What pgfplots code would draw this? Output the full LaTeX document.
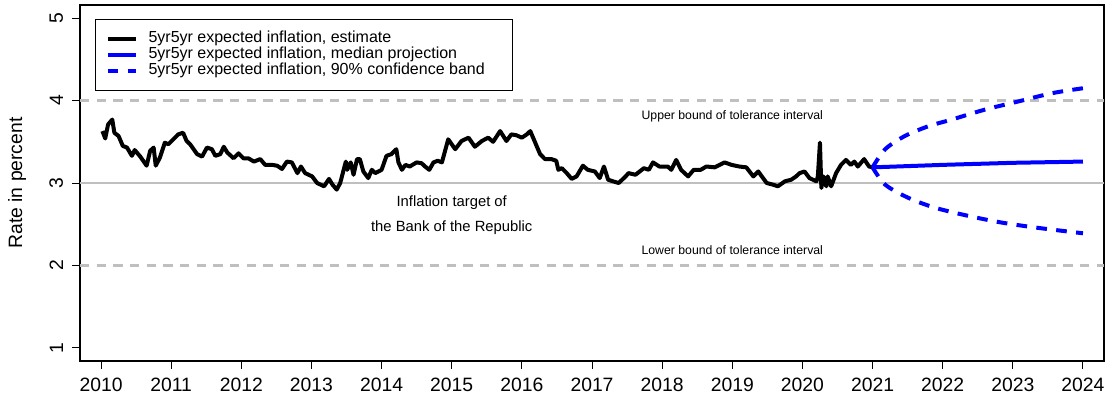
\documentclass[border=0pt]{standalone}
\usepackage{fontspec}
\setmainfont{Liberation Sans}
\usepackage{pgfplots}
\pgfplotsset{compat=1.18}
\begin{document}
\begin{tikzpicture}
\begin{axis}[name=ax, scale only axis, width=768pt, height=267pt,
  xmin=2009.7, xmax=2024.3, ymin=0.84, ymax=5.16,
  xtick={2010,2011,...,2024}, ytick={1,2,3,4,5},
  xtick pos=left, ytick pos=left,
  tick align=outside, major tick length=6pt,
  every tick/.style={black, line width=0.75pt},
  axis line style={line width=0.8pt},
  tick label style={font=\fontsize{14.5}{17}\selectfont},
  /pgf/number format/assume math mode=true,
  x tick label style={/pgf/number format/1000 sep={}},
  xticklabel shift=3.5pt,
  y tick label style={rotate=90, anchor=south},
  yticklabel shift=3.2pt,
  ylabel={Rate in percent},
  ylabel style={at={(axis description cs:-0.0615,0.5)}, anchor=center, font=\fontsize{14.5}{17}\selectfont},
  legend style={at={(0,1)}, anchor=north west, xshift=11.25pt, yshift=-10.5pt,
    draw=black, line width=0.8pt, fill=white,
    font=\fontsize{12}{14}\selectfont,
    inner xsep=7.5pt, inner ysep=8.5pt, row sep=0pt, column sep=8.25pt,
    nodes={inner sep=0pt, text height=8.6pt, text depth=3.4pt}},
  legend cell align=left,
  legend image code/.code={\draw[#1] (0pt,0pt) -- (21pt,0pt);},
]
\addplot[forget plot, gray!50, line width=2.2pt] coordinates {(2009.7,3) (2024.3,3)};
\addplot[forget plot, gray!50, line width=2.2pt, dash pattern=on 7pt off 5.5pt] coordinates {(2009.7,4) (2024.3,4)};
\addplot[forget plot, gray!50, line width=2.2pt, dash pattern=on 7pt off 5.5pt] coordinates {(2009.7,2) (2024.3,2)};

\addplot[black, line width=3pt, line join=round] coordinates {
(2010.02,3.63) (2010.06,3.54) (2010.10,3.71) (2010.16,3.77) (2010.19,3.61)
(2010.25,3.57) (2010.31,3.45) (2010.37,3.43) (2010.44,3.33) (2010.48,3.40)
(2010.56,3.32) (2010.65,3.21) (2010.70,3.39) (2010.75,3.43) (2010.78,3.21)
(2010.84,3.31) (2010.91,3.49) (2010.96,3.47) (2011.03,3.53) (2011.10,3.59)
(2011.17,3.61) (2011.22,3.51) (2011.27,3.47) (2011.37,3.35) (2011.44,3.32)
(2011.51,3.43) (2011.58,3.41) (2011.63,3.33) (2011.70,3.35) (2011.75,3.44)
(2011.80,3.37) (2011.89,3.30) (2011.96,3.36) (2012.03,3.30) (2012.10,3.30)
(2012.18,3.26) (2012.27,3.29) (2012.34,3.22) (2012.44,3.22) (2012.51,3.21)
(2012.58,3.17) (2012.65,3.26) (2012.72,3.25) (2012.80,3.12) (2012.85,3.20)
(2012.91,3.12) (2013.01,3.08) (2013.08,3.00) (2013.18,2.96) (2013.25,3.05)
(2013.30,2.98) (2013.36,2.92) (2013.41,3.00) (2013.49,3.26) (2013.51,3.16)
(2013.56,3.25) (2013.60,3.10) (2013.65,3.29) (2013.69,3.29) (2013.74,3.14)
(2013.81,3.06) (2013.86,3.16) (2013.91,3.12) (2014.00,3.16) (2014.07,3.33)
(2014.14,3.35) (2014.21,3.41) (2014.24,3.25) (2014.29,3.16) (2014.34,3.22)
(2014.40,3.20) (2014.50,3.25) (2014.57,3.24) (2014.62,3.20) (2014.68,3.16)
(2014.74,3.25) (2014.80,3.27) (2014.86,3.25) (2014.95,3.53) (2015.05,3.41)
(2015.14,3.51) (2015.24,3.55) (2015.33,3.44) (2015.43,3.51) (2015.52,3.55)
(2015.59,3.50) (2015.69,3.63) (2015.78,3.51) (2015.85,3.59) (2015.92,3.58)
(2016.00,3.55) (2016.07,3.59) (2016.12,3.63) (2016.19,3.49) (2016.26,3.35)
(2016.33,3.29) (2016.42,3.29) (2016.49,3.27) (2016.52,3.16) (2016.57,3.18)
(2016.64,3.12) (2016.71,3.05) (2016.78,3.08) (2016.87,3.21) (2016.94,3.16)
(2017.04,3.14) (2017.11,3.06) (2017.17,3.20) (2017.23,3.04) (2017.30,3.02)
(2017.38,3.00) (2017.48,3.08) (2017.52,3.12) (2017.62,3.10) (2017.74,3.18)
(2017.81,3.16) (2017.87,3.25) (2017.96,3.20) (2018.08,3.20) (2018.13,3.16)
(2018.20,3.28) (2018.27,3.16) (2018.37,3.08) (2018.45,3.16) (2018.55,3.16)
(2018.63,3.20) (2018.75,3.19) (2018.89,3.25) (2018.99,3.22) (2019.10,3.20)
(2019.20,3.19) (2019.30,3.08) (2019.37,3.14) (2019.49,3.00) (2019.58,2.98)
(2019.65,2.96) (2019.75,3.02) (2019.84,3.04) (2019.91,3.08) (2019.96,3.12)
(2020.03,3.14) (2020.10,3.06) (2020.20,3.02) (2020.22,3.08) (2020.25,3.49)
(2020.27,2.94) (2020.30,3.08) (2020.34,2.96) (2020.36,3.08) (2020.41,2.96)
(2020.48,3.12) (2020.55,3.22) (2020.62,3.28) (2020.69,3.22) (2020.74,3.26)
(2020.79,3.20) (2020.88,3.29) (2020.95,3.20) (2021.00,3.19)
};
\addlegendentry{\makebox[265.5pt][l]{5yr5yr expected inflation, estimate}}

\addplot[blue, line width=3pt] coordinates {
(2021.0,3.19) (2022.0,3.22) (2023.0,3.245) (2024.0,3.26)
};
\addlegendentry{5yr5yr expected inflation, median projection}

\addplot[blue, line width=3pt, dash pattern=on 8pt off 7pt, smooth] coordinates {
(2021.0,3.19) (2021.18,3.41) (2021.46,3.57) (2021.80,3.69) (2022.13,3.77)
(2022.60,3.89) (2023.08,3.99) (2023.56,4.09) (2024.0,4.15)
};
\addlegendentry{5yr5yr expected inflation, 90\% confidence band}

\addplot[forget plot, blue, line width=3pt, dash pattern=on 8pt off 7pt, smooth] coordinates {
(2021.0,3.19) (2021.18,2.98) (2021.51,2.82) (2021.89,2.70) (2022.37,2.60)
(2022.84,2.52) (2023.32,2.46) (2023.80,2.41) (2024.0,2.39)
};

\node[font=\fontsize{11.1}{13}\selectfont] at (axis cs:2015,2.76) {Inflation target of};
\node[font=\fontsize{11.1}{13}\selectfont] at (axis cs:2015,2.46) {the Bank of the Republic};
\node[font=\fontsize{9.2}{11}\selectfont] at (axis cs:2019,3.81) {Upper bound of tolerance interval};
\node[font=\fontsize{9.2}{11}\selectfont] at (axis cs:2019,2.19) {Lower bound of tolerance interval};
\end{axis}
\pgfresetboundingbox
\path ([xshift=-60pt,yshift=-27.75pt]ax.south west) rectangle ([xshift=3pt,yshift=3.75pt]ax.north east);
\end{tikzpicture}
\end{document}
